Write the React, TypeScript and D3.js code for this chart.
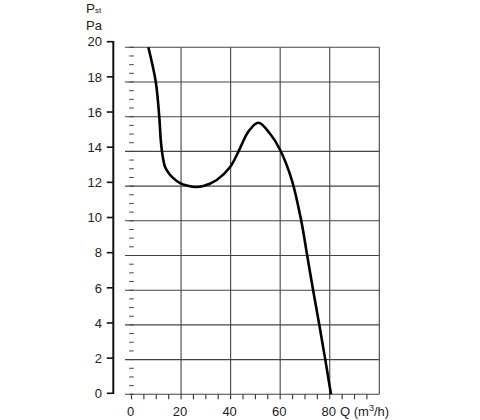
import { scaleLinear, line as d3line, curveCatmullRom, range } from "d3";

// fan curve, Q in m3/h, static pressure in Pa
const FLOW = [6.8, 9.8, 11.2, 11.9, 12.6, 13.5, 15.0, 16.4, 19.6, 22.3, 25.5, 29, 34.4, 39.8, 43.2, 47.2, 51.2, 56, 60, 64.7, 68.5, 70.9, 73.3, 75.8, 78.2, 80.5];
const PRESSURE = [20, 18, 16, 14.5, 13.7, 13.12, 12.75, 12.52, 12.17, 12.03, 11.95, 12.0, 12.35, 13.1, 14.0, 15.15, 15.65, 15.0, 14.08, 12.35, 10, 8, 6, 4, 2, 0];
const X_TICKS = [0, 20, 40, 60, 80];
const X_GRID = [20, 40, 60, 80, 100];
const Y_TICKS = [0, 2, 4, 6, 8, 10, 12, 14, 16, 18, 20];

const FONT = "'Liberation Sans', Arial, sans-serif";
const INK = "#222";

export default function App() {
  const x = scaleLinear().domain([0, 100]).range([131.5, 379.3]);
  const y = scaleLinear().domain([0, 20]).range([394.3, 47.3]); // grid
  const yAx = scaleLinear().domain([0, 20]).range([393.3, 41.7]); // offset axis
  const pts = FLOW.map((q, i) => [q, PRESSURE[i]] as [number, number]);
  const path = d3line<[number, number]>()
    .x(d => x(d[0])).y(d => y(d[1]))
    .curve(curveCatmullRom.alpha(0.5))(pts);
  const axX = 113.3;

  return (
    <svg width={480} height={420} style={{ position: "absolute", left: 0, top: 0, background: "#fff" }}
      fontFamily={FONT} fontSize={13} fill={INK}>
      {/* grid */}
      {Y_TICKS.map(t => (
        <line key={"h" + t} x1={125} x2={x(100)} y1={y(t)} y2={y(t)} stroke="#444" strokeWidth={1.1} />
      ))}
      {X_GRID.map(t => (
        <line key={"v" + t} x1={x(t)} x2={x(t)} y1={y(20)} y2={y(0)} stroke="#444" strokeWidth={1.1} />
      ))}
      {/* minor ticks at Q=0 */}
      {range(0, 20.01, 0.5).map(t => (
        <line key={"my" + t} x1={x(0) - 2.3} x2={x(0) + 2.3} y1={y(t)} y2={y(t)} stroke="#444" strokeWidth={1} />
      ))}
      {range(0, 96, 5).map(t => (
        <line key={"mx" + t} x1={x(t)} x2={x(t)} y1={y(0)} y2={y(0) + 5} stroke="#333" strokeWidth={1.1} />
      ))}
      {/* y axis */}
      <line x1={axX} x2={axX} y1={yAx(20) - 0.8} y2={yAx(0) + 0.8} stroke="#111" strokeWidth={2} />
      {Y_TICKS.map(t => (
        <g key={"yt" + t}>
          <line x1={axX - 6.5} x2={axX} y1={yAx(t)} y2={yAx(t)} stroke="#111" strokeWidth={1.6} />
          <text x={102} y={yAx(t)} dy="0.36em" textAnchor="end">{t}</text>
        </g>
      ))}
      {X_TICKS.map(t => (
        <text key={"xt" + t} x={x(t) - 1} y={416} textAnchor="middle">{t}</text>
      ))}
      <text x={340} y={416}>Q (m<tspan fontSize={9} dy={-5}>3</tspan><tspan dy={5}>/h)</tspan></text>
      <text x={86} y={12.5} fontSize={13.5}>P<tspan fontSize={8}>st</tspan></text>
      <text x={86} y={30}>Pa</text>
      {/* curve */}
      <path d={path ?? ""} fill="none" stroke="#000" strokeWidth={2.6} strokeLinejoin="round" />
    </svg>
  );
}
